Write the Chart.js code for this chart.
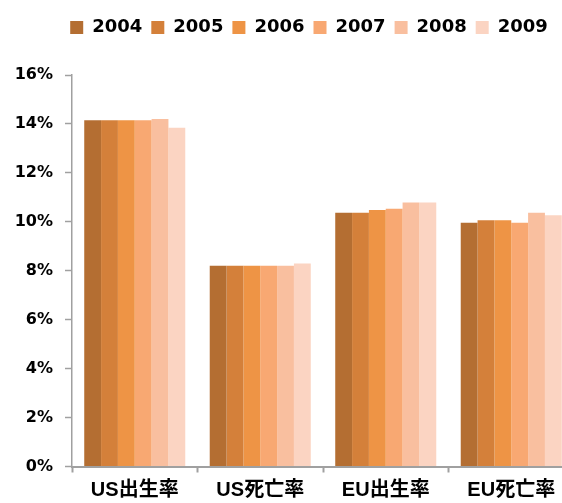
<!DOCTYPE html>
<html>
<head>
<meta charset="utf-8">
<style>
  html, body { margin: 0; padding: 0; background: #fff; overflow: hidden; }
  #wrap { width: 580px; height: 503px; }
</style>
<script src="https://cdn.jsdelivr.net/npm/chart.js@4/dist/chart.umd.min.js"></script>
</head>
<body>
<div id="wrap"><canvas id="c" width="580" height="503"></canvas></div>
<script>
const categories = ['US出生率', 'US死亡率', 'EU出生率', 'EU死亡率'];
const years = ['2004', '2005', '2006', '2007', '2008', '2009'];
const v2004 = [14.15, 8.20, 10.37, 9.96];
const v2005 = [14.15, 8.20, 10.37, 10.06];
const v2006 = [14.15, 8.20, 10.48, 10.06];
const v2007 = [14.15, 8.20, 10.53, 9.96];
const v2008 = [14.20, 8.20, 10.79, 10.37];
const v2009 = [13.84, 8.30, 10.79, 10.27];
const yTicks = [0, 2, 4, 6, 8, 10, 12, 14, 16];

const seriesValues = [v2004, v2005, v2006, v2007, v2008, v2009];
const colors = ['#B46E32', '#D4803A', '#EE9445', '#F8A872', '#F9BF9F', '#FBD4C2'];

const spacer = {
  id: 'spacer',
  beforeInit(chart) {
    Chart.layouts.addBox(chart, {
      position: 'top', weight: 500, fullSize: true,
      options: {},
      left: 0, top: 0, right: 0, bottom: 0, width: 0, height: 0,
      isHorizontal() { return true; },
      getPadding() { return {top: 0, left: 0, right: 0, bottom: 0}; },
      update(maxWidth) { this.width = maxWidth; this.height = 28.5; return {}; },
      draw() {}
    });
  }
};
const legendShift = {
  id: 'legendShift',
  afterLayout(chart) {
    const l = chart.legend;
    if (l) { l.left += 22; l.right += 22; }
  }
};

new Chart(document.getElementById('c'), {
  type: 'bar',
  data: {
    labels: categories,
    datasets: years.map((y, i) => ({
      label: y,
      data: seriesValues[i],
      backgroundColor: colors[i],
      borderWidth: 0,
      categoryPercentage: 0.805,
      barPercentage: 1.0
    }))
  },
  options: {
    responsive: false,
    animation: false,
    devicePixelRatio: 1,
    layout: { padding: { top: 9.5, right: 6, left: 0, bottom: 0 } },
    plugins: {
      legend: {
        position: 'top',
        labels: {
          boxWidth: 13, boxHeight: 13, padding: 9, color: '#000',
          font: { family: 'DejaVu Sans', weight: 'bold', size: 18 }
        }
      },
      tooltip: { enabled: false }
    },
    scales: {
      x: {
        afterFit(s) { s.height = 36.5; },
        border: { color: '#a0a0a0', width: 2 },
        grid: { display: true, drawOnChartArea: false, drawTicks: true, tickLength: 6, color: '#a0a0a0', tickColor: '#a0a0a0', tickWidth: 2, offset: true },
        ticks: { color: '#000', padding: 6, maxRotation: 0, font: { family: "'Liberation Sans', 'Noto Sans CJK KR'", weight: 'bold', size: 20 } }
      },
      y: {
        min: 0, max: 16,
        afterFit(s) { s.width = 72; },
        afterBuildTicks(s) { s.ticks = yTicks.map(v => ({ value: v })); },
        border: { color: '#a0a0a0', width: 1.5 },
        grid: { display: true, drawOnChartArea: false, drawTicks: true, tickLength: 7, color: '#a0a0a0', tickColor: '#a0a0a0', tickWidth: 1.5 },
        ticks: { color: '#000', padding: 12, callback: v => v + '%', font: { family: 'DejaVu Sans', weight: 'bold', size: 16 } }
      }
    }
  },
  plugins: [spacer, legendShift]
});
</script>
</body>
</html>
